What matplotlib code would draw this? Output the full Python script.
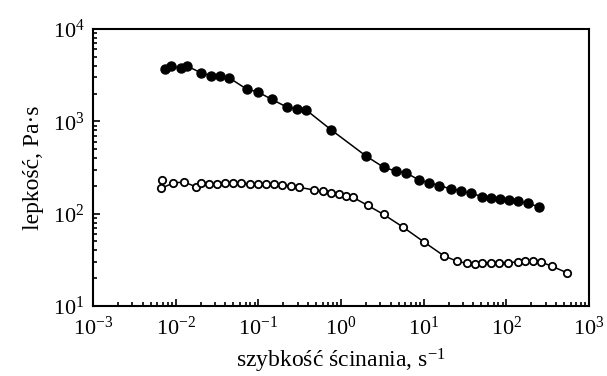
import numpy as np
import matplotlib.pyplot as plt
from matplotlib.ticker import LogLocator, NullFormatter

plt.rcParams['font.family'] = 'Liberation Serif'
plt.rcParams['mathtext.fontset'] = 'custom'
plt.rcParams['mathtext.rm'] = 'Liberation Serif'
plt.rcParams['mathtext.it'] = 'Liberation Serif:italic'
plt.rcParams['axes.unicode_minus'] = False

# filled circles
rate_filled = [0.0074, 0.0088, 0.0115, 0.0138, 0.0201, 0.0267, 0.0344, 0.0446,
               0.073, 0.098, 0.145, 0.224, 0.291, 0.378, 0.757, 2.0, 3.28, 4.67,
               6.06, 8.77, 11.7, 15.5, 21.6, 28.5, 37.4, 51.2, 65.8, 84.5, 109,
               140, 181, 248]
visc_filled = [3690, 4010, 3750, 3970, 3360, 3120, 3070, 2950, 2220, 2090, 1730,
               1420, 1370, 1330, 811, 422, 318, 288, 278, 232, 216, 201, 185, 176,
               166, 153, 148, 144, 142, 136, 129, 119]

# open circles
rate_open = [0.00678, 0.00665, 0.0094, 0.0126, 0.0175, 0.0202, 0.0255, 0.0319,
             0.0398, 0.0498, 0.0622, 0.0785, 0.099, 0.124, 0.155, 0.195, 0.248,
             0.313, 0.475, 0.600, 0.757, 0.946, 1.15, 1.40, 2.10, 3.28, 5.57,
             10.2, 17.7, 25.5, 33.0, 42.0, 51.0, 65.0, 82.0, 105, 137, 168, 208,
             262, 353, 537]
visc_open = [232, 188, 215, 220, 196, 215, 208, 211, 215, 215, 213, 211, 211, 209,
             208, 204, 200, 193, 180, 175, 169, 163, 157, 150, 123, 98, 72, 49,
             34.8, 30.5, 29.0, 28.3, 29.4, 29.5, 29.5, 29.5, 30.0, 30.5, 31.0,
             30.0, 27.0, 23.0]

x_ticks = [1e-3, 1e-2, 1e-1, 1e0, 1e1, 1e2, 1e3]
y_ticks = [1e1, 1e2, 1e3, 1e4]

fig = plt.figure(figsize=(6.07, 3.76), dpi=100)
ax = fig.add_axes([0.1532, 0.1862, 0.8171, 0.7367])

ax.plot(rate_filled, visc_filled, '-o', color='black', lw=1.1,
        ms=6.5, mfc='black', mec='black')
ax.plot(rate_open, visc_open, '-o', color='black', lw=1.1,
        ms=5.3, mfc='white', mec='black', mew=1.3)

ax.set_xscale('log')
ax.set_yscale('log')
ax.set_xticks(x_ticks)
ax.set_yticks(y_ticks)
ax.set_xlim(1e-3, 1e3)
ax.set_ylim(1e1, 1e4)

ax.xaxis.set_minor_locator(LogLocator(base=10, subs=np.arange(2, 10), numticks=20))
ax.xaxis.set_minor_formatter(NullFormatter())
ax.yaxis.set_minor_locator(LogLocator(base=10, subs=np.arange(2, 10), numticks=20))
ax.yaxis.set_minor_formatter(NullFormatter())

ax.tick_params(which='both', direction='in', top=False, right=False,
               labelsize=16, width=1.2)
ax.tick_params(which='major', length=5)
ax.tick_params(axis='x', which='major', pad=8)
ax.tick_params(axis='y', which='major', pad=6)
ax.tick_params(which='minor', length=3)
for s in ax.spines.values():
    s.set_linewidth(1.5)

ax.set_xlabel('szybkość ścinania, s$^{-1}$', fontsize=17, labelpad=5)
ax.set_ylabel('lepkość, Pa·s', fontsize=17, labelpad=6)

plt.savefig('out.png', dpi=100)
